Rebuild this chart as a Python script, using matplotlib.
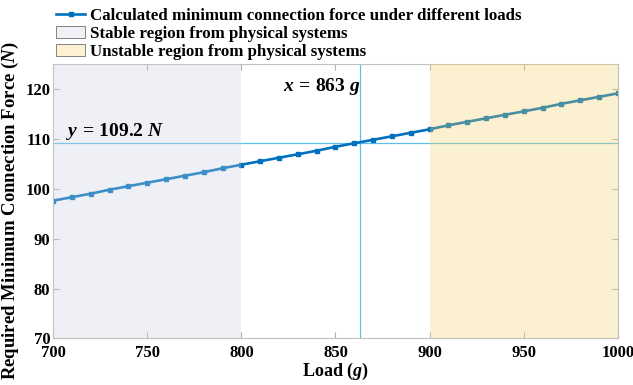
import matplotlib
matplotlib.use('Agg')
import matplotlib.pyplot as plt
import matplotlib.patches as mpatches
from matplotlib.lines import Line2D

plt.rcParams['font.family'] = 'Liberation Serif'
plt.rcParams['font.weight'] = 'bold'
plt.rcParams['mathtext.fontset'] = 'custom'
plt.rcParams['mathtext.rm'] = 'Liberation Serif:bold'
plt.rcParams['mathtext.it'] = 'Liberation Serif:italic:bold'
plt.rcParams['mathtext.bf'] = 'Liberation Serif:bold'

# ── data ──────────────────────────────────────────────────────────────
load = [700, 710, 720, 730, 740, 750, 760, 770, 780, 790, 800,
        810, 820, 830, 840, 850, 860, 870, 880, 890, 900,
        910, 920, 930, 940, 950, 960, 970, 980, 990, 1000]
force = [97.6, 98.3, 99.0, 99.8, 100.5, 101.2, 101.9, 102.6, 103.3, 104.1, 104.8,
         105.5, 106.2, 106.9, 107.6, 108.4, 109.1, 109.8, 110.5, 111.2, 111.9,
         112.7, 113.4, 114.1, 114.8, 115.5, 116.2, 117.0, 117.7, 118.4, 119.1]
stable_region = (700, 800)
unstable_region = (900, 1000)
x_cross = 863
y_cross = 109.2

line_c = '#0072BD'
ref_c = '#5BC0EB'
stable_c = '#cdd0e1'
unstable_c = '#f5d062'

fig = plt.figure(figsize=(6.33, 3.85), dpi=100)
ax = fig.add_axes([0.084, 0.121, 0.892, 0.713])

ax.plot(load, force, color=line_c, linewidth=1.9, marker='s', markersize=3.2,
        zorder=2)
ax.axhline(y_cross, color=ref_c, linewidth=0.9, zorder=1)
ax.axvline(x_cross, color=ref_c, linewidth=0.9, zorder=1)

# regions drawn over the line, like the original
ax.axvspan(*stable_region, color=stable_c, alpha=0.3, linewidth=0, zorder=3)
ax.axvspan(*unstable_region, color=unstable_c, alpha=0.3, linewidth=0, zorder=3)

ax.text(707, 110.6, r'$y\,=\,109.2\ N$', fontsize=14, zorder=4)
ax.text(822, 119.6, r'$x\,=\,863\ g$', fontsize=14, zorder=4)

ax.set_xlim(700, 1000)
ax.set_ylim(70, 125)
ax.set_xticks([700, 750, 800, 850, 900, 950, 1000])
ax.set_yticks([70, 80, 90, 100, 110, 120])
ax.tick_params(direction='in', top=True, right=True, labelsize=12,
               color='#b0b0b0', length=4)
ax.tick_params(axis='x', pad=5)
ax.tick_params(axis='y', pad=2)
for s in ax.spines.values():
    s.set_color('#c0c0c0')
    s.set_linewidth(0.8)

ax.set_xlabel(r'Load ($g$)', fontsize=13, fontweight='bold', labelpad=0)
ax.set_ylabel(r'Required Minimum Connection Force ($N$)', fontsize=13.5,
              fontweight='bold')
ax.yaxis.set_label_coords(-0.057, 0.465)

handles = [
    Line2D([], [], color=line_c, marker='s', markersize=3.2, linewidth=1.9),
    mpatches.Patch(facecolor='#f0f1f6', edgecolor='#707070', linewidth=0.6),
    mpatches.Patch(facecolor='#fcf1d0', edgecolor='#707070', linewidth=0.6),
]
labels = ['Calculated minimum connection force under different loads',
          'Stable region from physical systems',
          'Unstable region from physical systems']
fig.legend(handles, labels, loc='upper left', bbox_to_anchor=(0.072, 1.005),
           frameon=False, fontsize=12.2, handlelength=1.75, handletextpad=0.3,
           labelspacing=0.1, borderaxespad=0.2)

fig.savefig('out.png', dpi=100)
